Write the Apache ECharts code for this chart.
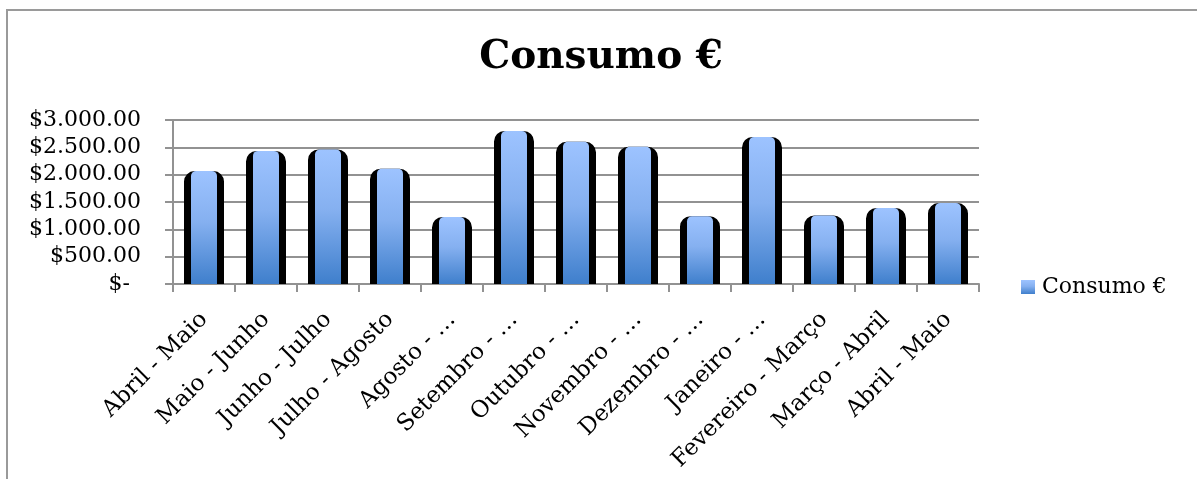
<!DOCTYPE html>
<html>
<head>
<meta charset="utf-8">
<script src="https://cdn.jsdelivr.net/npm/echarts@6/dist/echarts.min.js"></script>
<style>
html,body{margin:0;padding:0;background:#fff;}
#chart{width:1197px;height:479px;}
</style>
</head>
<body>
<div id="chart"></div>
<script>
const categories = ['Abril - Maio', 'Maio - Junho', 'Junho - Julho', 'Julho - Agosto', 'Agosto - …', 'Setembro - …', 'Outubro - …', 'Novembro - …', 'Dezembro - …', 'Janeiro - …', 'Fevereiro - Março', 'Março - Abril', 'Abril - Maio'];
const consumo = [2065, 2435, 2460, 2110, 1225, 2800, 2600, 2510, 1240, 2690, 1255, 1390, 1480];
const yTickLabels = ['$-', '$500.00', '$1.000.00', '$1.500.00', '$2.000.00', '$2.500.00', '$3.000.00'];
const seriesName = 'Consumo €';

const FONT = 'DejaVu Serif';
const chart = echarts.init(document.getElementById('chart'));
const catIdx = categories.map((c, i) => i);

chart.setOption({
  animation: false,
  backgroundColor: '#fff',
  title: {
    text: 'Consumo €',
    left: 601,
    textAlign: 'center',
    top: 38,
    padding: 0,
    textStyle: { fontFamily: FONT, fontWeight: 'bold', fontSize: 39, color: '#000' }
  },
  legend: {
    data: [seriesName],
    left: 1021,
    top: 276,
    padding: 0,
    icon: 'rect',
    itemWidth: 14,
    itemHeight: 14,
    itemGap: 8,
    textStyle: { fontFamily: FONT, fontSize: 22, color: '#000', padding: [0, 0, 0, 2] }
  },
  grid: { left: 173, right: 218, top: 120, bottom: 195, containLabel: false },
  xAxis: [
    {
      type: 'category',
      data: catIdx,
      boundaryGap: true,
      axisLine: { lineStyle: { color: '#929292', width: 2 } },
      axisTick: { show: true, length: 8, lineStyle: { color: '#929292', width: 2 } },
      axisLabel: {
        interval: 0,
        rotate: 45,
        margin: 32,
        fontFamily: FONT,
        fontSize: 23,
        color: '#000',
        formatter: function (v) { return categories[v]; }
      }
    },
    {
      type: 'category',
      data: catIdx,
      show: false
    }
  ],
  yAxis: {
    type: 'value',
    min: 0,
    max: 3000,
    interval: 500,
    axisLine: { show: true, lineStyle: { color: '#929292', width: 2 } },
    axisTick: { show: true, length: 8, lineStyle: { color: '#929292', width: 2 } },
    splitLine: { show: true, lineStyle: { color: '#929292', width: 2 } },
    axisLabel: {
      margin: 32,
      fontFamily: FONT,
      fontSize: 22,
      color: '#000',
      formatter: function (v) {
        const s = yTickLabels[Math.round(v / 500)];
        return v === 0 ? '{z|' + s + '}' : s;
      },
      rich: { z: { fontFamily: FONT, fontSize: 22, color: '#000', padding: [0, 11, 0, 0] } }
    }
  },
  series: [
    {
      name: 'shadow',
      type: 'bar',
      xAxisIndex: 0,
      data: consumo,
      barWidth: 40,
      itemStyle: { color: '#000', borderColor: '#000', borderWidth: 3, borderRadius: [9, 9, 0, 0] },
      emphasis: { disabled: true },
      silent: true
    },
    {
      name: seriesName,
      type: 'bar',
      xAxisIndex: 1,
      data: consumo,
      barWidth: 26,
      itemStyle: {
        borderRadius: [5, 5, 0, 0],
        color: new echarts.graphic.LinearGradient(0, 0, 0, 1, [
          { offset: 0, color: '#9dc3ff' },
          { offset: 0.45, color: '#85b0f0' },
          { offset: 1, color: '#3f7fcc' }
        ])
      },
      emphasis: { disabled: true }
    }
  ],
  graphic: [
    {
      type: 'rect',
      shape: { x: 7, y: 10, width: 1400, height: 800 },
      style: { fill: 'none', stroke: '#9a9a9a', lineWidth: 2 },
      silent: true,
      z: 100
    }
  ]
});
</script>
</body>
</html>
